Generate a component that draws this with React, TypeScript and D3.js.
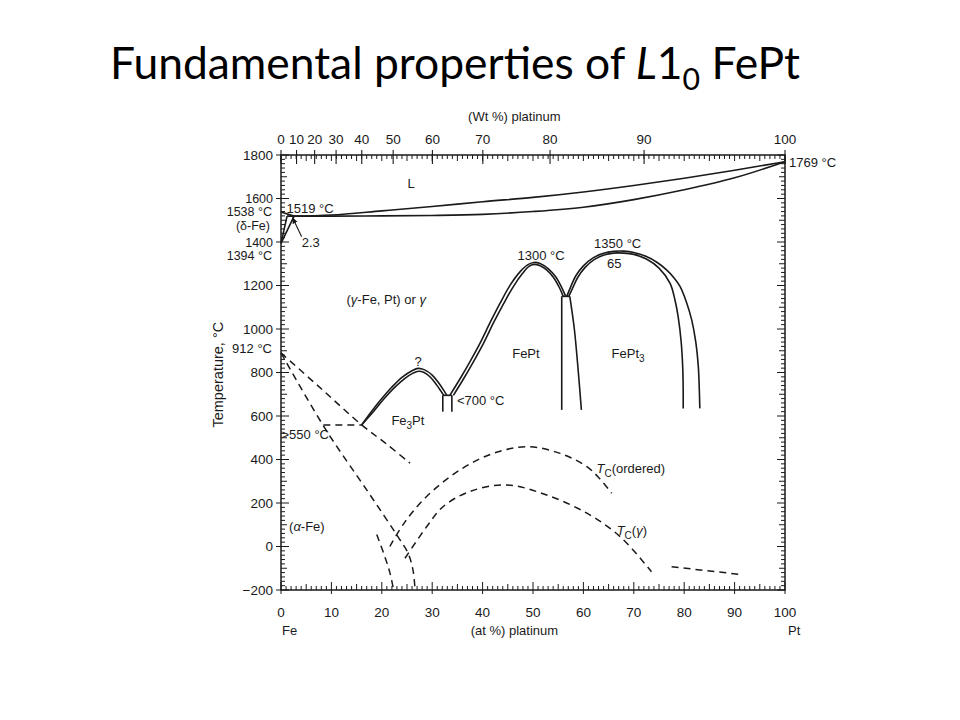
import React from 'react';
import * as d3 from 'd3';

// ---------- data (at% Pt, temperature °C) ----------
const atMajorTicks = d3.range(0, 101, 10);
const wtMajorTicks = d3.range(0, 101, 10);
const tempMajorTicks = d3.range(-200, 1801, 200);

const liquidusFe: [number, number][] = [[0, 1538], [2.6, 1519]];
const deltaA: [number, number][] = [[0, 1394], [1.2, 1519]];
const deltaB: [number, number][] = [[0, 1394], [2.6, 1519]];
const solidus: [number, number][] = [[1.2, 1519], [10, 1519], [20, 1520], [30, 1522], [40, 1527], [50, 1540], [60, 1560], [70, 1595], [80, 1640], [90, 1695], [100, 1769]];
const liquidus: [number, number][] = [[2.6, 1519], [10, 1524], [20, 1543], [30, 1563], [40, 1585], [50, 1605], [60, 1630], [70, 1660], [80, 1693], [90, 1730], [100, 1769]];

const fe3ptOuter: [number, number][] = [[16.0, 559], [18, 622], [20, 680], [22, 733], [24, 778], [26, 808], [27.2, 819], [28.5, 812], [30, 788], [31.3, 752], [32.3, 718], [32.9, 695]];
const fe3ptInner: [number, number][] = [[16.0, 559], [18.4, 622], [20.4, 678], [22.4, 728], [24.4, 770], [26.2, 797], [27.3, 806], [28.4, 800], [29.7, 777], [30.9, 742], [31.8, 712], [32.3, 695]];
const fe3ptBar: [number, number][] = [[32.1, 695], [33.9, 695]];
const fe3ptVertL: [number, number][] = [[32.1, 695], [32.1, 620]];
const fe3ptVertR: [number, number][] = [[33.9, 695], [33.9, 620]];

const feptOuter: [number, number][] = [[33.5, 695], [35.5, 770], [37.5, 850], [39.5, 935], [41.5, 1030], [43.5, 1120], [45.5, 1203], [47.5, 1265], [49, 1296], [50.2, 1306], [51.5, 1300], [53, 1278], [54.5, 1240], [55.6, 1195], [56.5, 1150]];
const feptInner: [number, number][] = [[34.2, 695], [36.2, 770], [38.2, 850], [40.2, 935], [42.2, 1030], [44.2, 1118], [46.1, 1195], [47.9, 1255], [49.2, 1288], [50.2, 1297], [51.3, 1292], [52.7, 1272], [54.1, 1236], [55.2, 1192], [56.0, 1150]];
const feptBar: [number, number][] = [[55.7, 1150], [57.3, 1150]];
const feptVertL: [number, number][] = [[55.7, 1150], [55.7, 628]];
const feptVertR: [number, number][] = [[57.3, 1150], [58.2, 1000], [59.0, 800], [59.6, 628]];

const fept3Outer: [number, number][] = [[56.7, 1150], [57.5, 1195], [58.5, 1245], [60, 1290], [62, 1328], [64, 1348], [66, 1357], [68, 1358], [70, 1352], [72.5, 1333], [74.5, 1308], [76.5, 1272], [78, 1235], [79.2, 1195], [80.5, 1120], [81.5, 1041], [82.3, 940], [82.8, 827], [83.0, 720], [83.1, 635]];
const fept3Inner: [number, number][] = [[57.1, 1150], [57.9, 1190], [58.9, 1238], [60.3, 1282], [62.2, 1320], [64.1, 1340], [66, 1349], [68, 1349], [70, 1343], [72.5, 1322], [75, 1280], [77.2, 1210], [78.2, 1130], [78.8, 1057], [79.4, 940], [79.7, 827], [79.8, 720], [79.8, 635]];

const dashA: [number, number][] = [[0, 890], [8, 725], [16.0, 559], [21, 470], [25.6, 383]];
const dashB: [number, number][] = [[0, 890], [8.7, 544], [17, 260], [20.5, 140], [23.2, 45], [25.2, -30], [26.2, -110], [26.6, -200]];
const dash550: [number, number][] = [[8.4, 559], [16.0, 559]];
const dashC: [number, number][] = [[19.0, 55], [20.5, -40], [21.6, -120], [22.3, -195]];
const tcOrdered: [number, number][] = [[21.6, 0], [24.5, 110], [28.9, 230], [35.5, 352], [42.1, 428], [48.8, 459], [55.4, 428], [60.7, 367], [63.3, 310], [65.6, 245]];
const tcGamma: [number, number][] = [[24.6, -54], [28.9, 91], [32.2, 184], [37.5, 253], [44.8, 283], [52.7, 237], [60.7, 153], [67.3, 45], [73.5, -116]];
const dashD: [number, number][] = [[77.5, -93], [91.0, -128]];

const arrow23: [number, number][] = [[4.1, 1424], [2.3, 1512]];

// ---------- helpers ----------
const wtToAt = (w: number) => {
  const a = w / 195.08;
  const b = (100 - w) / 55.845;
  return (100 * a) / (a + b);
};

const x = d3.scaleLinear().domain([0, 100]).range([281, 785]);
const y = d3.scaleLinear().domain([-200, 1800]).range([590, 155]);

const smooth = d3.line<[number, number]>().x(d => x(d[0])).y(d => y(d[1])).curve(d3.curveCatmullRom.alpha(0.5));
const straight = d3.line<[number, number]>().x(d => x(d[0])).y(d => y(d[1]));

const INK = '#1a1a1a';
const FONT = '"Liberation Sans", Arial, Helvetica, sans-serif';

export default function App() {
  const solidCurves = [solidus, liquidus, fe3ptOuter, fe3ptInner, feptOuter, feptInner, fept3Outer, fept3Inner, feptVertR];
  const straightLines = [liquidusFe, deltaA, deltaB, fe3ptBar, fe3ptVertL, fe3ptVertR, feptBar, feptVertL];
  const dashed = [dashA, dashB, dash550, dashC, tcOrdered, tcGamma, dashD];

  const atMinor = d3.range(0, 101, 1);
  const tMinor = d3.range(-200, 1801, 20);

  const x0 = x(0), x1 = x(100), yT = y(1800), yB = y(-200);
  const axisTitleX = x(46.3);

  return (
    <svg width={960} height={720} style={{ position: 'absolute', left: 0, top: 0, background: '#fff' }} fontFamily={FONT}>
      <defs>
        <marker id="ah" viewBox="0 0 10 10" refX="9" refY="5" markerWidth="6" markerHeight="6" orient="auto">
          <path d="M0,1 L10,5 L0,9 z" fill={INK} />
        </marker>
      </defs>
      <rect x={0} y={0} width={960} height={720} fill="#fff" />

      {/* Title */}
      <text x={110} y={79} fontFamily='Lato, "Open Sans", sans-serif' fontSize={44} fill="#000" textLength={690} lengthAdjust="spacingAndGlyphs">
        Fundamental properties of <tspan fontStyle="italic">L</tspan>1<tspan dy={11} fontSize={30}>0</tspan><tspan dy={-11}> FePt</tspan>
      </text>

      {/* frame */}
      <rect x={x0} y={yT} width={x1 - x0} height={yB - yT} fill="none" stroke={INK} strokeWidth={1.5} />

      {/* bottom ticks */}
      {atMinor.map(v => {
        const len = v % 10 === 0 ? 8 : v % 5 === 0 ? 6 : 4;
        const out = v % 10 === 0 ? 4 : 0;
        return <line key={'b' + v} x1={x(v)} x2={x(v)} y1={yB + out} y2={yB - len} stroke={INK} strokeWidth={1} />;
      })}
      {/* top ticks (at% minor) */}
      {atMinor.map(v => {
        const len = v % 5 === 0 ? 6 : 4;
        return <line key={'t' + v} x1={x(v)} x2={x(v)} y1={yT} y2={yT + len} stroke={INK} strokeWidth={1} />;
      })}
      {/* top major ticks (wt%) */}
      {wtMajorTicks.map(w => (
        <line key={'tw' + w} x1={x(wtToAt(w))} x2={x(wtToAt(w))} y1={yT - 5} y2={yT + 9} stroke={INK} strokeWidth={1.1} />
      ))}
      {/* left / right ticks */}
      {tMinor.map(t => {
        const len = t % 200 === 0 ? 8 : t % 100 === 0 ? 6 : 4;
        const out = t % 200 === 0 ? 5 : 0;
        return (
          <g key={'l' + t}>
            <line x1={x0 - out} x2={x0 + len} y1={y(t)} y2={y(t)} stroke={INK} strokeWidth={1} />
            <line x1={x1} x2={x1 - len} y1={y(t)} y2={y(t)} stroke={INK} strokeWidth={1} />
          </g>
        );
      })}

      {/* tick labels */}
      <g fontSize={13.5} fill={INK}>
        {atMajorTicks.map(v => (
          <text key={'bl' + v} x={x(v)} y={yB + 27} textAnchor="middle">{v}</text>
        ))}
        {wtMajorTicks.map(w => (
          <text key={'tl' + w} x={x(wtToAt(w))} y={yT - 11} textAnchor="middle">{w}</text>
        ))}
        {tempMajorTicks.map(t => (
          <text key={'ll' + t} x={x0 - 8} y={y(t) + 4.5} textAnchor="end" fontSize={t === 1600 || t === 1400 ? 12.5 : 13.5}>{t < 0 ? '\u2212' + Math.abs(t) : t}</text>
        ))}
      </g>
      <g fontSize={13} fill={INK}>
        <text x={axisTitleX} y={yT - 34} textAnchor="middle">(Wt %) platinum</text>
        <text x={axisTitleX} y={yB + 45} textAnchor="middle">(at %) platinum</text>
        <text x={x0 + 1} y={yB + 45}>Fe</text>
        <text x={x1 + 3} y={yB + 45}>Pt</text>
        <text transform={`translate(223,${y(790)}) rotate(-90)`} textAnchor="middle" fontSize={14.5}>Temperature, °C</text>

        <g fontSize={12.5}>
          <text x={x0 - 9} y={y(1518)} textAnchor="end">1538 °C</text>
          <text x={x0 - 11} y={y(1455)} textAnchor="end">(δ-Fe)</text>
          <text x={x0 - 9} y={y(1316)} textAnchor="end">1394 °C</text>
        </g>
        <text x={x0 - 9} y={y(890)} textAnchor="end">912 °C</text>
        <text x={x1 + 4} y={y(1745)}>1769 °C</text>

        <text x={x(25.8)} y={y(1648)} textAnchor="middle">L</text>
        <text x={x(1.1)} y={y(1533)}>1519 °C</text>
        <text x={x(4.1)} y={y(1377)}>2.3</text>
        <text x={x(13.0)} y={y(1115)}>(<tspan fontStyle="italic">γ</tspan>-Fe, Pt) or <tspan fontStyle="italic">γ</tspan></text>
        <text x={x(27.2)} y={y(830)} textAnchor="middle">?</text>
        <text x={x(34.9)} y={y(651)}>&lt;700 °C</text>
        <text x={x(51.6)} y={y(1317)} textAnchor="middle">1300 °C</text>
        <text x={x(66.8)} y={y(1372)} textAnchor="middle">1350 °C</text>
        <text x={x(66.1)} y={y(1280)} textAnchor="middle">65</text>
        <text x={x(48.6)} y={y(867)} textAnchor="middle">FePt</text>
        <text x={x(65.6)} y={y(867)}>FePt<tspan dy={4} fontSize={10}>3</tspan></text>
        <text x={x(21.9)} y={y(559)}>Fe<tspan dy={4} fontSize={10}>3</tspan><tspan dy={-4}>Pt</tspan></text>
        <text x={x(0.1)} y={y(494)}>&gt;550 °C</text>
        <text x={x(1.6)} y={y(71)}>(<tspan fontStyle="italic">α</tspan>-Fe)</text>
        <text x={x(62.6)} y={y(338)}><tspan fontStyle="italic">T</tspan><tspan dy={4} fontSize={10}>C</tspan><tspan dy={-4}>(ordered)</tspan></text>
        <text x={x(66.6)} y={y(53)}><tspan fontStyle="italic">T</tspan><tspan dy={4} fontSize={10}>C</tspan><tspan dy={-4}>(</tspan><tspan fontStyle="italic">γ</tspan>)</text>
      </g>

      {/* solid phase boundaries */}
      <g fill="none" stroke={INK} strokeWidth={1.6}>
        {solidCurves.map((d, i) => <path key={'s' + i} d={smooth(d) || ''} />)}
        {straightLines.map((d, i) => <path key={'l' + i} d={straight(d) || ''} />)}
        <path d={straight(arrow23) || ''} strokeWidth={1.1} markerEnd="url(#ah)" />
      </g>

      {/* dashed lines */}
      <g fill="none" stroke={INK} strokeWidth={1.5} strokeDasharray="7,5">
        {dashed.map((d, i) => <path key={'d' + i} d={smooth(d) || ''} />)}
      </g>
    </svg>
  );
}
